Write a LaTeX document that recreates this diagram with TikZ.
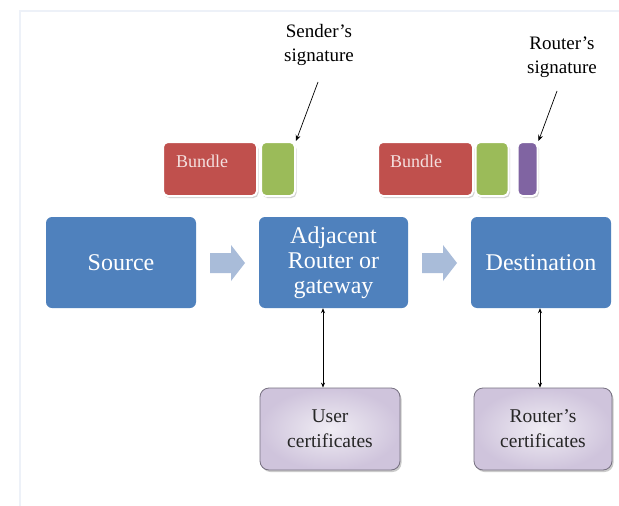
\documentclass[tikz,border=0pt]{standalone}
\usepackage{fontspec}
\setmainfont{Liberation Serif}
\usetikzlibrary{shadows,arrows.meta}
\definecolor{boxblue}{HTML}{4F81BD}
\definecolor{arrblue}{HTML}{A9BCD9}
\definecolor{bred}{HTML}{C0504D}
\definecolor{bgreen}{HTML}{9BBB59}
\definecolor{bpurple}{HTML}{8064A2}
\definecolor{lavin}{HTML}{F0EDF4}
\definecolor{lavout}{HTML}{CFC4DC}
\definecolor{lavdraw}{HTML}{767080}
\definecolor{faint}{HTML}{EDF1F8}
\definecolor{bundletext}{HTML}{F4E0DF}
\tikzset{
  mainbox/.style={rectangle, rounded corners=6pt, fill=boxblue, draw=none, text=white,
    font=\fontsize{24}{25}\selectfont, align=center, inner sep=0pt},
  piece/.style={rectangle, rounded corners=5pt, draw=white, line width=2pt,
    drop shadow={shadow xshift=1.5pt, shadow yshift=-2pt, fill=black!35, opacity=0.5}, inner sep=0pt},
  certbox/.style={rectangle, rounded corners=9pt, draw=lavdraw, line width=0.8pt,
    inner color=lavin, outer color=lavout,
    drop shadow={shadow xshift=1.5pt, shadow yshift=-2pt, fill=black!40, opacity=0.5},
    font=\fontsize{19.5}{25}\selectfont, align=center, text=black!85, inner sep=0pt},
  lbl/.style={font=\fontsize{19}{24}\selectfont, align=center, text=black, inner sep=0pt},
  sigarrow/.style={-{Stealth[length=6pt,width=5pt]}, line width=0.7pt},
  dblarrow/.style={{Stealth[length=5pt,width=4pt]}-{Stealth[length=5pt,width=4pt]}, line width=0.7pt},
  blockarrow/.style={fill=arrblue, draw=none}
}
\begin{document}
\begin{tikzpicture}[x=1pt,y=-1pt]
\useasboundingbox (0,0) rectangle (619,506);
\fill[white] (0,0) rectangle (619,506);
% faint frame
\draw[faint, line width=1.2pt] (20,506) -- (20,11) -- (619,11);

% main boxes
\node[mainbox, minimum width=150pt, minimum height=91pt] (src) at (121,262.5) {Source};
\node[mainbox, minimum width=149pt, minimum height=91pt] (adj) at (333.5,262.5) {Adjacent\\Router or\\gateway};
\node[mainbox, minimum width=140pt, minimum height=91pt] (dst) at (541,262.5) {Destination};

% block arrows
\fill[blockarrow] (210,253) -- (231,253) -- (231,245) -- (245,263) -- (231,281) -- (231,273) -- (210,273) -- cycle;
\fill[blockarrow] (422,253) -- (443,253) -- (443,245) -- (457,263) -- (443,281) -- (443,273) -- (422,273) -- cycle;

% bundles
\node[piece, fill=bred, minimum width=94pt, minimum height=54pt] (b1) at (210,169) {};
\node[piece, fill=bgreen, minimum width=34pt, minimum height=54pt] (g1) at (278,169) {};
\node[anchor=west, text=bundletext, font=\fontsize{18}{20}\selectfont, inner sep=0pt] (bt1) at (176,161) {Bundle};

\node[piece, fill=bred, minimum width=95pt, minimum height=54pt] (b2) at (425.5,169) {};
\node[piece, fill=bgreen, minimum width=33pt, minimum height=54pt] (g2) at (492,169) {};
\node[piece, fill=bpurple, minimum width=20pt, minimum height=54pt] (p2) at (527.5,169) {};
\node[anchor=west, text=bundletext, font=\fontsize{18}{20}\selectfont, inner sep=0pt] (bt2) at (390,161) {Bundle};

% signature labels
\node[lbl] (sl) at (319,45) {Sender's\\signature};
\node[lbl] (rl) at (562,57) {Router's\\signature};
\coordinate (sa) at (318,82);
\coordinate (ra) at (557,91);
\draw[sigarrow] (sa) -- (g1.north east);
\draw[sigarrow] (ra) -- (p2.north east);

% certificate boxes
\node[certbox, minimum width=140pt, minimum height=82pt] (uc) at (330,429) {User\\certificates};
\node[certbox, minimum width=138pt, minimum height=82pt] (rc) at (543,429) {Router's\\certificates};

\draw[dblarrow] ([xshift=-10.5pt]adj.south) -- ([xshift=-7pt]uc.north);
\draw[dblarrow] ([xshift=-1pt]dst.south) -- ([xshift=-3pt]rc.north);
\end{tikzpicture}
\end{document}
